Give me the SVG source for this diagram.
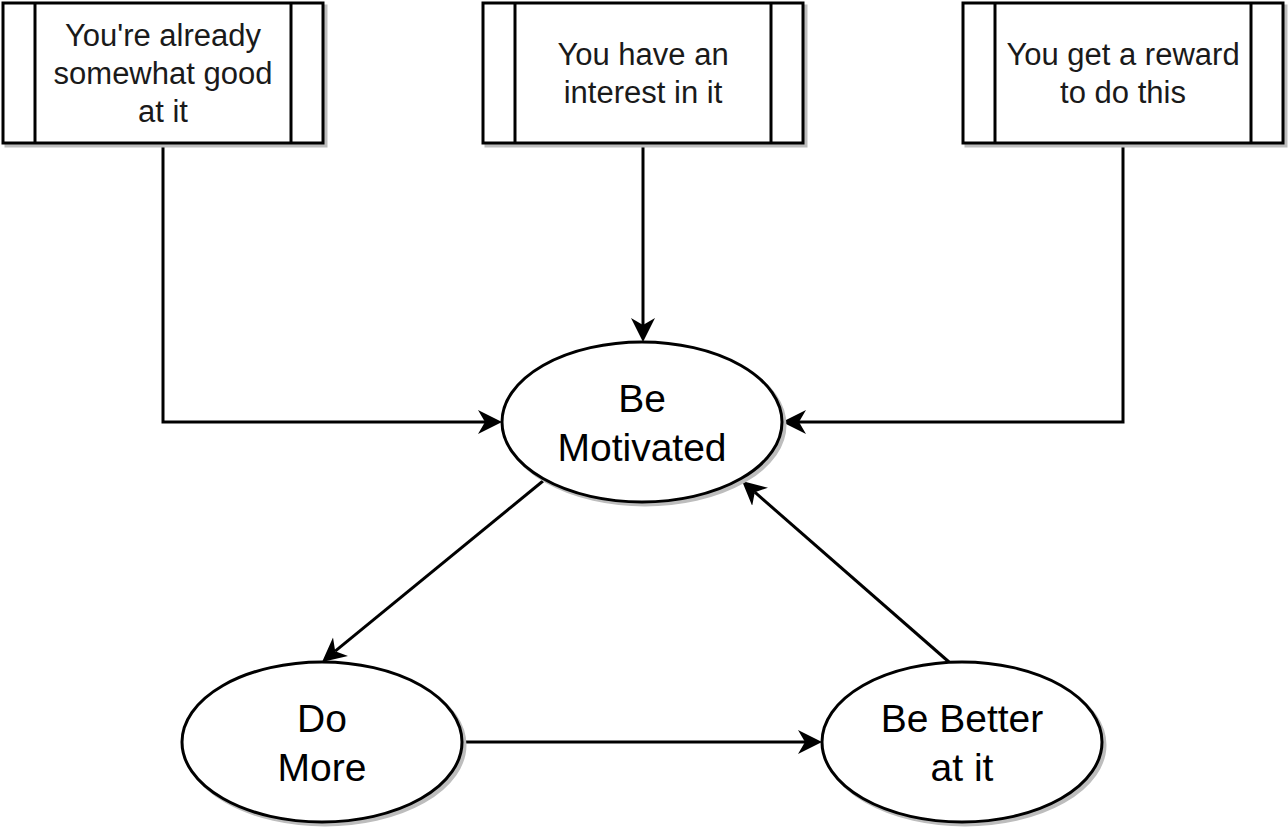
<svg xmlns="http://www.w3.org/2000/svg" width="1288" height="830" viewBox="0 0 1288 830">
<style>
.sh{fill:#bdbdbd;stroke:#bdbdbd;stroke-width:3}
.shape{fill:#ffffff;stroke:#000000;stroke-width:3}
.ln{fill:none;stroke:#000000;stroke-width:3}
.bt{font-family:"Liberation Sans",Arial,sans-serif;font-size:31px;fill:#1a1a1a;text-anchor:middle}
.et{font-family:"Liberation Sans",Arial,sans-serif;font-size:39px;fill:#000000;text-anchor:middle}
.edge{fill:none;stroke:#000000;stroke-width:3;marker-end:url(#arr)}
</style>
<defs>
<marker id="arr" markerUnits="userSpaceOnUse" markerWidth="26" markerHeight="26" refX="7" refY="12" orient="auto">
<path d="M24,12 L0,0 L7,12 L0,24 Z" fill="#000000"/>
</marker>
</defs>
<rect width="1288" height="830" fill="#ffffff"/>
<g id="connectors">
<path class="edge" d="M163,143 L163,422 L485,422"/>
<path class="edge" d="M643,143 L643,325"/>
<path class="edge" d="M1123,143 L1123,422 L799,422"/>
<path class="edge" d="M543,481 L335.2,651.2"/>
<path class="edge" d="M462,742 L805,742"/>
<path class="edge" d="M949,662 L754.8,492.2"/>
</g>
<g id="box1">
<rect class="sh" x="6" y="6" width="320" height="140"/>
<rect class="shape" x="3" y="3" width="320" height="140"/>
<line class="ln" x1="35" y1="3" x2="35" y2="143"/>
<line class="ln" x1="291" y1="3" x2="291" y2="143"/>
<text class="bt" x="163" y="46">You're already</text>
<text class="bt" x="163" y="84">somewhat good</text>
<text class="bt" x="163" y="122">at it</text>
</g>
<g id="box2">
<rect class="sh" x="486" y="6" width="320" height="140"/>
<rect class="shape" x="483" y="3" width="320" height="140"/>
<line class="ln" x1="515" y1="3" x2="515" y2="143"/>
<line class="ln" x1="771" y1="3" x2="771" y2="143"/>
<text class="bt" x="643" y="65">You have an</text>
<text class="bt" x="643" y="103">interest in it</text>
</g>
<g id="box3">
<rect class="sh" x="966" y="6" width="320" height="140"/>
<rect class="shape" x="963" y="3" width="320" height="140"/>
<line class="ln" x1="995" y1="3" x2="995" y2="143"/>
<line class="ln" x1="1251" y1="3" x2="1251" y2="143"/>
<text class="bt" x="1123" y="65">You get a reward</text>
<text class="bt" x="1123" y="103">to do this</text>
</g>
<g id="motivated">
<ellipse class="sh" cx="645" cy="425" rx="140" ry="80"/>
<ellipse class="shape" cx="642" cy="422" rx="140" ry="80"/>
<text class="et" x="642" y="412">Be</text>
<text class="et" x="642" y="461">Motivated</text>
</g>
<g id="domore">
<ellipse class="sh" cx="325" cy="745" rx="140" ry="80"/>
<ellipse class="shape" cx="322" cy="742" rx="140" ry="80"/>
<text class="et" x="322" y="732">Do</text>
<text class="et" x="322" y="781">More</text>
</g>
<g id="better">
<ellipse class="sh" cx="965" cy="745" rx="140" ry="80"/>
<ellipse class="shape" cx="962" cy="742" rx="140" ry="80"/>
<text class="et" x="962" y="732">Be Better</text>
<text class="et" x="962" y="781">at it</text>
</g>
</svg>
